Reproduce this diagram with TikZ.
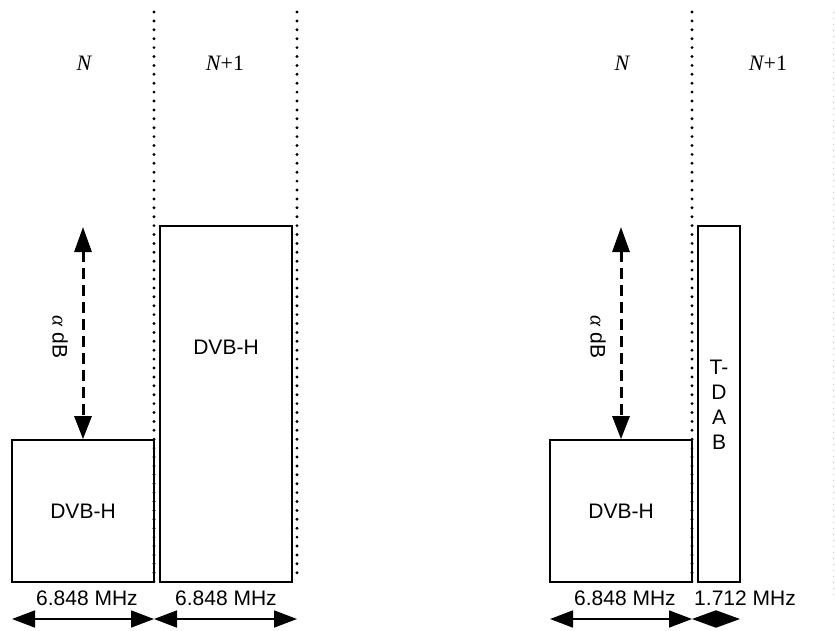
\documentclass[tikz,border=0pt]{standalone}
\usepackage{fontspec}
\setmainfont{Liberation Sans}
\newfontfamily\serifit{Liberation Serif}
\usetikzlibrary{arrows.meta}
\begin{document}
\begin{tikzpicture}[x=1pt,y=-1pt,
  txt/.style={font=\fontsize{21}{25}\selectfont, inner sep=0pt},
  chan/.style={font=\fontsize{22}{24}\selectfont\serifit\itshape, inner sep=0pt},
  band/.style={draw, line width=1.7pt, inner sep=0pt, font=\fontsize{21}{25}\selectfont},
  sep/.style={line width=3.2pt, line cap=round, dash pattern=on 0pt off 8.9pt},
  faint/.style={line width=1pt, gray!45, dash pattern=on 1pt off 5pt},
  dbarrow/.style={line width=3pt, dash pattern=on 11pt off 6pt, {Triangle[length=25pt,width=17pt]}-{Triangle[length=23pt,width=17pt]}},
  bwarrow/.style={line width=1.7pt, {Triangle[length=23pt,width=17pt]}-{Triangle[length=23pt,width=17pt]}},
  bwshort/.style={line width=1.7pt, {Triangle[length=24pt,width=17pt]}-{Triangle[length=24pt,width=17pt]}}
]
\useasboundingbox (0,0) rectangle (835,630);

% separators
\coordinate (s1t) at (154,12); \coordinate (s1b) at (154,582);
\coordinate (s2t) at (297,12); \coordinate (s2b) at (297,580);
\coordinate (s3t) at (692,12); \coordinate (s3b) at (692,582);
\coordinate (s4t) at (833,12); \coordinate (s4b) at (833,600);
\draw[sep] (s1t) -- (s1b);
\draw[sep] (s2t) -- (s2b);
\draw[sep] (s3t) -- (s3b);
\draw[faint] (s4t) -- (s4b);

% channel labels
\node[chan] (n1) at (84,63) {N};
\node[chan] (n2) at (225,63) {N\upshape+1};
\node[chan] (n3) at (622,63) {N};
\node[chan] (n4) at (768,63) {N\upshape+1};

% boxes
\node[band, minimum width=142pt, minimum height=142pt] (b1) at (83,511) {DVB-H};
\node[band, minimum width=132pt, minimum height=356pt] (b2) at (226,404) {};
\node[txt] (b2t) at (226,347) {DVB-H};
\node[band, minimum width=142pt, minimum height=142pt] (b3) at (621,511) {DVB-H};
\node[band, minimum width=42pt, minimum height=356pt] (b4) at (719,404) {};
\node[txt, align=center] (b4t) at (719,405) {T-\\D\\A\\B};

% alpha dB arrows
\coordinate (a1t) at (83,227);
\coordinate (a2t) at (621,227);
\draw[dbarrow] (a1t) -- (b1.north);
\draw[dbarrow] (a2t) -- (b3.north);
\node[txt, rotate=-90] (l1) at (60,337) {{\serifit\itshape α} dB};
\node[txt, rotate=-90] (l2) at (598,337) {{\serifit\itshape α} dB};

% bandwidth labels
\node[txt] (w1) at (87,598) {6.848 MHz};
\node[txt] (w2) at (226,598) {6.848 MHz};
\node[txt] (w3) at (625,598) {6.848 MHz};
\node[txt] (w4) at (745,598) {1.712 MHz};

% bandwidth arrows
\coordinate (p1) at (12,619); \coordinate (p2) at (154,619); \coordinate (p3) at (297,619);
\coordinate (q1) at (550,619); \coordinate (q2) at (692,619); \coordinate (q3) at (740,619);
\draw[bwarrow] (p1) -- (p2);
\draw[bwarrow] (p2) -- (p3);
\draw[bwarrow] (q1) -- (q2);
\draw[bwshort] (q2) -- (q3);
\end{tikzpicture}
\end{document}
